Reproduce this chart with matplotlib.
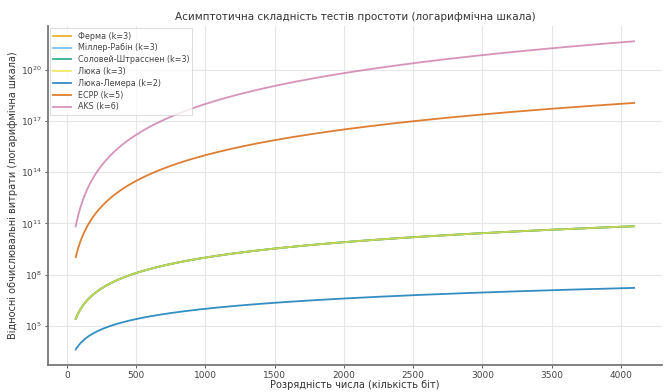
import numpy as np
import matplotlib
matplotlib.use("Agg")
import matplotlib.pyplot as plt

# Розрядність числа (біт) та показники степеня для кожного тесту
bits = np.arange(64, 4097, 16)
names = ["Ферма", "Міллер-Рабін", "Соловей-Штрасснен", "Люка",
         "Люка-Лемера", "ECPP", "AKS"]
k_values = [3, 3, 3, 3, 2, 5, 6]
colors = ["#E69F00", "#56B4E9", "#009E73", "#F0E442",
          "#0072B2", "#D55E00", "#CC79A7"]

plt.rcParams["font.family"] = ["DejaVu Sans"]

fig = plt.figure(figsize=(6.64, 3.92), dpi=100)
ax = fig.add_axes([0.072, 0.069, 0.925, 0.865])

for name, k, c in zip(names, k_values, colors):
    ax.plot(bits, bits.astype(float) ** k, color=c, lw=1.3, alpha=0.8,
            label=f"{name} (k={k})")

ax.set_yscale("log")
ax.set_yticks([1e5, 1e8, 1e11, 1e14, 1e17, 1e20])
ax.yaxis.set_minor_locator(matplotlib.ticker.NullLocator())
ax.set_xticks([0, 500, 1000, 1500, 2000, 2500, 3000, 3500, 4000])

ax.grid(True, color="#e6e6e6", lw=0.8)
ax.set_axisbelow(True)
for s in ["top", "right"]:
    ax.spines[s].set_visible(False)
for s in ["left", "bottom"]:
    ax.spines[s].set_color("#777777")
    ax.spines[s].set_linewidth(1.3)
ax.tick_params(labelsize=6.5, colors="#444444", length=2, width=0.6, pad=2)

ax.set_title("Асимптотична складність тестів простоти (логарифмічна шкала)",
             fontsize=7.5, color="#333333", pad=4)
ax.set_xlabel("Розрядність числа (кількість біт)", fontsize=7, color="#333333", labelpad=0)
ax.set_ylabel("Відносні обчислювальні витрати (логарифмічна шкала)",
              fontsize=7, color="#333333", labelpad=2)

leg = ax.legend(loc="upper left", fontsize=5.8, frameon=True, fancybox=False,
                edgecolor="#cccccc", labelcolor="#444444", handlelength=2.2,
                labelspacing=0.35, borderaxespad=0.3)
leg.get_frame().set_linewidth(0.6)

fig.savefig("out.png", dpi=100)
